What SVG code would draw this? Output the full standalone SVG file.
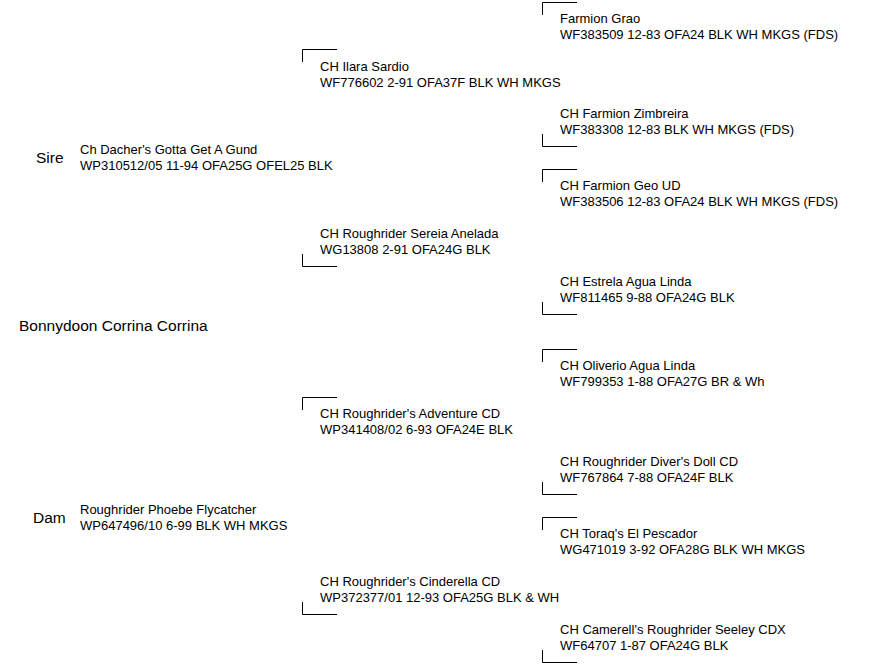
<svg xmlns="http://www.w3.org/2000/svg" width="890" height="666" viewBox="0 0 890 666">
<style>
text{font-family:"Liberation Sans",Arial,sans-serif;fill:#000}
.n{font-size:13px}
.b{font-size:15.5px}
.c path{fill:none;stroke:#000;stroke-width:1}
</style>
<rect width="890" height="666" fill="#fff"/>
<g class="c" id="connectors">
<path d="M542.5 15V2.5H577"/>
<path d="M302.5 62V49.5H337"/>
<path d="M542.5 134V146.5H577"/>
<path d="M542.5 182V169.5H577"/>
<path d="M302.5 254V266.5H337"/>
<path d="M542.5 302V314.5H577"/>
<path d="M542.5 362V349.5H577"/>
<path d="M302.5 410V397.5H337"/>
<path d="M542.5 482V494.5H577"/>
<path d="M542.5 530V517.5H577"/>
<path d="M302.5 602V614.5H337"/>
<path d="M542.5 650V662.5H577"/>
</g>
<g id="root"><text class="b" x="19" y="331">Bonnydoon Corrina Corrina</text></g>
<g id="sire"><text class="b" x="36" y="163">Sire</text><text class="n" x="80" y="154">Ch Dacher's Gotta Get A Gund</text><text class="n" x="80" y="170">WP310512/05 11-94 OFA25G OFEL25 BLK</text></g>
<g id="dam"><text class="b" x="33" y="523">Dam</text><text class="n" x="80" y="514">Roughrider Phoebe Flycatcher</text><text class="n" x="80" y="530">WP647496/10 6-99 BLK WH MKGS</text></g>
<g id="ss"><text class="n" x="320" y="71">CH Ilara Sardio</text><text class="n" x="320" y="87">WF776602 2-91 OFA37F BLK WH MKGS</text></g>
<g id="sd"><text class="n" x="320" y="238">CH Roughrider Sereia Anelada</text><text class="n" x="320" y="254">WG13808 2-91 OFA24G BLK</text></g>
<g id="ds"><text class="n" x="320" y="418">CH Roughrider's Adventure CD</text><text class="n" x="320" y="434">WP341408/02 6-93 OFA24E BLK</text></g>
<g id="dd"><text class="n" x="320" y="586">CH Roughrider's Cinderella CD</text><text class="n" x="320" y="602">WP372377/01 12-93 OFA25G BLK &amp; WH</text></g>
<g id="sss"><text class="n" x="560" y="23">Farmion Grao</text><text class="n" x="560" y="39">WF383509 12-83 OFA24 BLK WH MKGS (FDS)</text></g>
<g id="ssd"><text class="n" x="560" y="118">CH Farmion Zimbreira</text><text class="n" x="560" y="134">WF383308 12-83 BLK WH MKGS (FDS)</text></g>
<g id="sds"><text class="n" x="560" y="190">CH Farmion Geo UD</text><text class="n" x="560" y="206">WF383506 12-83 OFA24 BLK WH MKGS (FDS)</text></g>
<g id="sdd"><text class="n" x="560" y="286">CH Estrela Agua Linda</text><text class="n" x="560" y="302">WF811465 9-88 OFA24G BLK</text></g>
<g id="dss"><text class="n" x="560" y="370">CH Oliverio Agua Linda</text><text class="n" x="560" y="386">WF799353 1-88 OFA27G BR &amp; Wh</text></g>
<g id="dsd"><text class="n" x="560" y="466">CH Roughrider Diver's Doll CD</text><text class="n" x="560" y="482">WF767864 7-88 OFA24F BLK</text></g>
<g id="dds"><text class="n" x="560" y="538">CH Toraq's El Pescador</text><text class="n" x="560" y="554">WG471019 3-92 OFA28G BLK WH MKGS</text></g>
<g id="ddd"><text class="n" x="560" y="634">CH Camerell's Roughrider Seeley CDX</text><text class="n" x="560" y="650">WF64707 1-87 OFA24G BLK</text></g>
</svg>
